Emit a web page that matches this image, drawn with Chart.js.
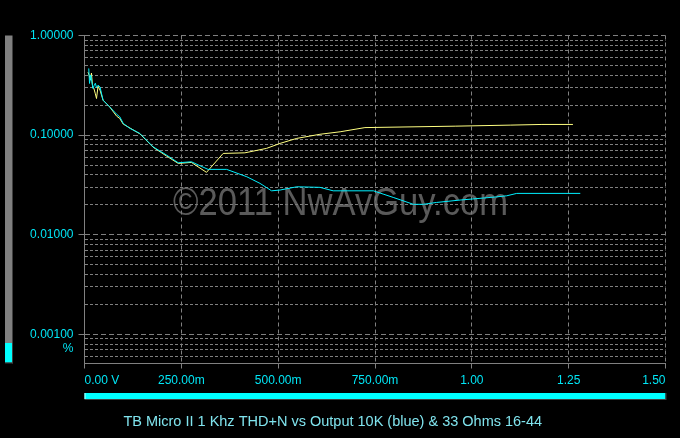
<!DOCTYPE html>
<html>
<head>
<meta charset="utf-8">
<script src="https://cdn.jsdelivr.net/npm/chart.js@4"></script>
<style>
  body { margin: 0; background: #000; }
  #wrap { width: 680px; height: 438px; }
</style>
</head>
<body>
<div id="wrap"><canvas id="thd"></canvas></div>
<script>
"use strict";

// 10K load (cyan trace)
const cyanVolts = [0.011, 0.013, 0.016, 0.019, 0.022, 0.025, 0.028, 0.031, 0.035, 0.040,
  0.048, 0.065, 0.083, 0.091, 0.100, 0.117, 0.143, 0.177, 0.212, 0.242,
  0.276, 0.319, 0.367, 0.419, 0.453, 0.483, 0.505, 0.548, 0.608, 0.642,
  0.746, 0.771, 0.797, 0.849, 0.875, 0.909, 0.970, 1.021, 1.064, 1.090,
  1.116, 1.280];
const cyanThd = [0.467, 0.330, 0.400, 0.343, 0.294, 0.315, 0.332, 0.300, 0.317, 0.305,
  0.224, 0.192, 0.162, 0.153, 0.131, 0.117, 0.104, 0.0763, 0.063, 0.0528,
  0.054, 0.0453, 0.0453, 0.0382, 0.0328, 0.0276, 0.0281, 0.0303, 0.0299, 0.0276,
  0.0276, 0.0256, 0.0237, 0.0202, 0.0202, 0.0211, 0.0223, 0.0232, 0.0240, 0.0246,
  0.0260, 0.0260];

// 33 ohm load (yellow trace)
const yellowVolts = [0.009, 0.012, 0.015, 0.018, 0.021, 0.024, 0.028, 0.031, 0.035, 0.040,
  0.048, 0.065, 0.083, 0.091, 0.100, 0.143, 0.177, 0.212, 0.242, 0.276,
  0.315, 0.358, 0.414, 0.470, 0.505, 0.548, 0.608, 0.660, 0.724, 0.957,
  1.099, 1.181, 1.261];
const yellowThd = [0.428, 0.40, 0.356, 0.42, 0.30, 0.296, 0.26, 0.233, 0.31, 0.283,
  0.224, 0.192, 0.155, 0.147, 0.129, 0.103, 0.0757, 0.0616, 0.052, 0.0532,
  0.0423, 0.0655, 0.0664, 0.0736, 0.0826, 0.0927, 0.102, 0.108, 0.119, 0.123,
  0.126, 0.128, 0.128];

// axes
const xTicks = [0, 0.25, 0.5, 0.75, 1.0, 1.25, 1.5];
const xTickLabels = ["0.00 V", "250.00m", "500.00m", "750.00m", "1.00", "1.25", "1.50"];
const yDecades = [0.0001, 0.001, 0.01, 0.1, 1];
const yMin = 0.00051;
const yMax = 1;
const titleText = "TB Micro II 1 Khz THD+N vs Output 10K (blue) & 33 Ohms 16-44";
const watermark = "\u00a92011 NwAvGuy.com";

const labelColor = "#00e6f6";
const gridColor = "#808080";
const font = "'Liberation Sans', Arial, sans-serif";

let isDecade = v => Math.abs(Math.log10(v) - Math.round(Math.log10(v))) < 1e-9;

let toPoints = (xs, ys) => xs.map((x, i) => ({ x: x, y: ys[i] }));

// watermark, level bars, x labels, unit
const decor = {
  id: "decor",
  beforeDatasetsDraw(chart) {
    let ctx = chart.ctx;
    ctx.save();
    ctx.font = "38px " + font;
    ctx.fillStyle = "rgba(120,120,120,0.75)";
    ctx.textAlign = "center";
    ctx.textBaseline = "alphabetic";
    ctx.fillText(watermark, 340.5, 215, 335);
    ctx.restore();
  },
  afterDraw(chart) {
    let ctx = chart.ctx;
    let area = chart.chartArea;
    let xs = chart.scales.x;
    ctx.save();
    // left level bar
    ctx.fillStyle = "#808080";
    ctx.fillRect(5, area.top, 7, area.bottom - area.top - 1);
    ctx.fillStyle = "#00ffff";
    ctx.fillRect(5, 343, 7, area.bottom - 343 - 1);
    ctx.fillStyle = "#404040";
    ctx.fillRect(12, area.top, 1, area.bottom - area.top);
    ctx.fillRect(5, area.bottom - 1, 8, 1);
    // bottom bar
    ctx.fillStyle = "#00ffff";
    ctx.fillRect(area.left, 393, area.right - area.left, 6);
    ctx.fillStyle = "#c0ffff";
    ctx.fillRect(area.left, 393, 1, 6);
    ctx.fillStyle = "#404040";
    ctx.fillRect(area.left, 399, area.right - area.left + 1, 1);
    ctx.fillRect(area.right, 393, 1, 6);
    // x labels
    ctx.font = "12px " + font;
    ctx.fillStyle = labelColor;
    ctx.textBaseline = "middle";
    xTicks.forEach((v, i) => {
      ctx.textAlign = i === 0 ? "left" : (i === xTicks.length - 1 ? "right" : "center");
      ctx.fillText(xTickLabels[i], xs.getPixelForValue(v), 380.5);
    });
    ctx.textAlign = "right";
    ctx.fillText("%", 73.5, 348.5);
    ctx.restore();
  }
};

let chart = new Chart(document.querySelector("#thd"), {
  type: "line",
  data: {
    datasets: [{
      label: "10K",
      data: toPoints(cyanVolts, cyanThd),
      borderColor: "#00f0ff",
      borderWidth: 1,
      pointRadius: 0,
      tension: 0,
      fill: false
    }, {
      label: "33 Ohms",
      data: toPoints(yellowVolts, yellowThd),
      borderColor: "#ffff80",
      borderWidth: 1,
      pointRadius: 0,
      tension: 0,
      fill: false
    }]
  },
  options: {
    responsive: true,
    maintainAspectRatio: false,
    animation: false,
    layout: { padding: { top: 35.5, right: 14.5, left: 0, bottom: 0 } },
    plugins: {
      legend: { display: false },
      tooltip: { enabled: false },
      title: {
        display: true,
        position: "bottom",
        text: titleText,
        color: "#80e4ee",
        font: { size: 14.5, family: font, weight: "normal" },
        padding: { top: 10, bottom: 7.3 }
      }
    },
    scales: {
      x: {
        type: "linear",
        min: 0,
        max: 1.5,
        afterBuildTicks: s => { s.ticks = xTicks.map(v => ({ value: v })); },
        afterFit: s => { s.height = 39.8; },
        ticks: { display: false },
        grid: { color: gridColor, tickColor: gridColor, tickLength: 5, lineWidth: 1 },
        border: { color: gridColor, width: 1, dash: [4, 3] }
      },
      y: {
        type: "logarithmic",
        min: yMin,
        max: yMax,
        afterBuildTicks: s => {
          let ticks = [];
          yDecades.forEach(d => {
            for (let m = 1; m <= 9; m++) {
              let v = m * d;
              if (v >= yMin && v <= yMax * 1.0001) ticks.push({ value: v });
            }
          });
          s.ticks = ticks;
        },
        afterFit: s => { s.width = 84.5; },
        ticks: {
          autoSkip: false,
          color: labelColor,
          padding: 5,
          font: { size: 12, family: font },
          callback: v => isDecade(v) ? v.toFixed(5) : ""
        },
        grid: {
          color: gridColor,
          lineWidth: 1,
          tickLength: 6,
          tickColor: c => (c.tick && isDecade(c.tick.value)) ? gridColor : "rgba(0,0,0,0)"
        },
        border: {
          color: gridColor,
          width: 1,
          dash: c => (c.tick && isDecade(c.tick.value)) ? [5, 3] : [3, 2]
        }
      }
    }
  },
  plugins: [decor]
});
</script>
</body>
</html>
